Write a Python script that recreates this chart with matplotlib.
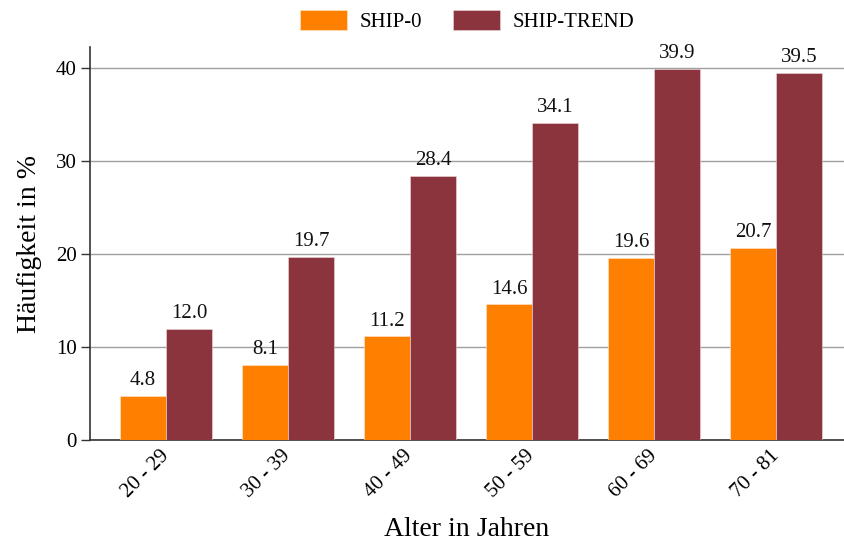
import matplotlib
matplotlib.use("Agg")
import matplotlib.pyplot as plt
import numpy as np

categories = ["20 - 29", "30 - 39", "40 - 49", "50 - 59", "60 - 69", "70 - 81"]
ship0 = [4.8, 8.1, 11.2, 14.6, 19.6, 20.7]
ship_trend = [12.0, 19.7, 28.4, 34.1, 39.9, 39.5]
series_names = ["SHIP-0", "SHIP-TREND"]
yticks = [0, 10, 20, 30, 40]

plt.rcParams['font.family'] = ['Liberation Serif', 'DejaVu Serif']

fig = plt.figure(figsize=(8.44, 5.45), dpi=100)
ax = fig.add_axes([90/844, 1-440.3/545, 1-90/844, (440.3-46.7)/545])

c_orange = "#FF8000"
c_red = "#8C343D"
w = 0.377
x = np.arange(len(categories))
b1 = ax.bar(x - w/2, ship0, width=w, color=c_orange, label=series_names[0], zorder=3,
            edgecolor="#FFE8D0", linewidth=0.4)
b2 = ax.bar(x + w/2, ship_trend, width=w, color=c_red, label=series_names[1], zorder=3,
            edgecolor="#F0D8DA", linewidth=0.4)

for bars, vals in ((b1, ship0), (b2, ship_trend)):
    for r, v in zip(bars, vals):
        ax.annotate(f"{v:.1f}", (r.get_x() + r.get_width()/2, v), xytext=(0, 4),
                    textcoords="offset points", ha="center", va="bottom", fontsize=15,
                    color="#111111")

ax.set_xlim(-0.623, 5.557)
ax.set_ylim(0, 42.3)
ax.set_yticks(yticks)
ax.set_xticks(x)
ax.set_xticklabels(categories, rotation=45, ha="right", va="center",
                   rotation_mode="anchor", fontsize=15)
ax.tick_params(axis="x", length=0, pad=9)
ax.tick_params(axis="y", length=6.5, width=1, color="#333333", labelsize=15, pad=3)
ax.yaxis.grid(True, color="#A0A0A0", linewidth=1, zorder=0)
ax.set_axisbelow(True)
for s in ("top", "right"):
    ax.spines[s].set_visible(False)
for s in ("left", "bottom"):
    ax.spines[s].set_color("#333333")
    ax.spines[s].set_linewidth(1.2)

ax.set_ylabel("Häufigkeit in %", fontsize=20, labelpad=10)
ax.set_xlabel("Alter in Jahren", fontsize=20, labelpad=11)

ax.legend(loc="lower center", bbox_to_anchor=(0.5, 1.0), ncol=2, frameon=False, fontsize=15,
          handlelength=2.25, handleheight=1.1, columnspacing=1.5, handletextpad=0.6,
          borderaxespad=0.3)

fig.savefig("out.png", dpi=100)
